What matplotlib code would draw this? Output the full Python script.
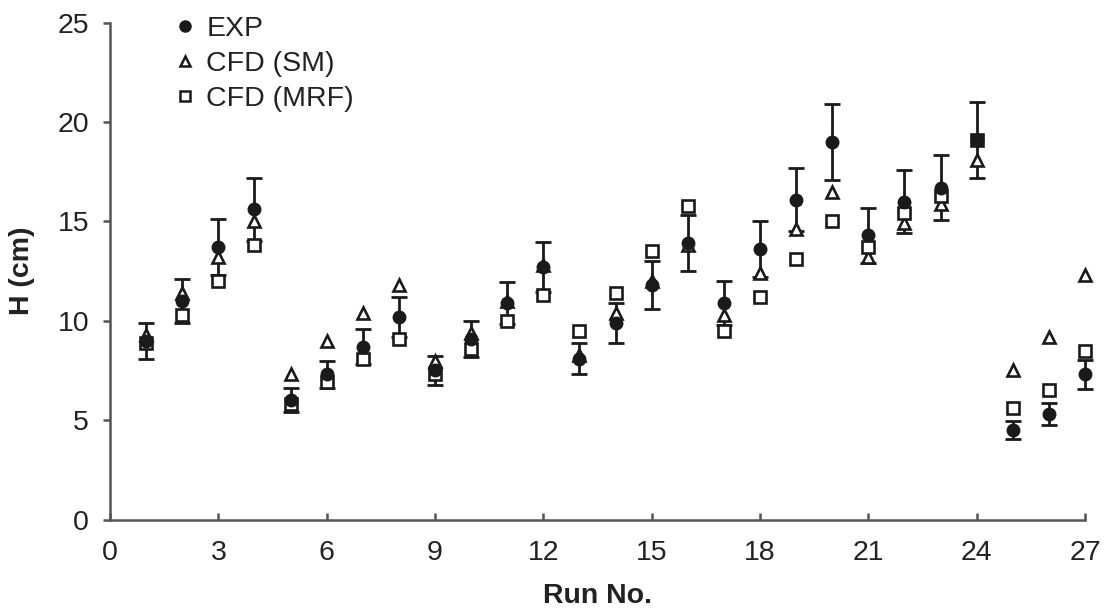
import matplotlib
matplotlib.use("Agg")
import matplotlib.pyplot as plt
from matplotlib.lines import Line2D

plt.rcParams['font.family'] = ['Liberation Sans', 'DejaVu Sans']

runs = list(range(1, 28))
exp = [9.0, 11.0, 13.7, 15.6, 6.0, 7.3, 8.7, 10.2, 7.5, 9.1, 10.9, 12.7, 8.1, 9.9,
       11.8, 13.9, 10.9, 13.6, 16.1, 19.0, 14.3, 16.0, 16.7, 19.1, 4.5, 5.3, 7.3]
exp_err = [0.9, 1.1, 1.4, 1.6, 0.6, 0.7, 0.9, 1.0, 0.75, 0.9, 1.05, 1.25, 0.8, 1.0,
           1.2, 1.4, 1.1, 1.4, 1.6, 1.9, 1.4, 1.6, 1.65, 1.9, 0.45, 0.55, 0.75]
cfd_sm = [9.3, 11.4, 13.2, 15.0, 7.3, 9.0, 10.4, 11.8, 8.0, 9.4, 11.0, 12.8, 8.3, 10.4,
          12.0, 13.8, 10.3, 12.4, 14.6, 16.5, 13.2, 14.9, 15.9, 18.1, 7.5, 9.2, 12.3]
cfd_mrf = [8.9, 10.3, 12.0, 13.8, 5.8, 6.9, 8.1, 9.1, 7.3, 8.6, 10.0, 11.3, 9.5, 11.4,
           13.5, 15.8, 9.5, 11.2, 13.1, 15.0, 13.7, 15.4, 16.3, 19.1, 5.6, 6.5, 8.5]

fig = plt.figure(figsize=(11.08, 6.11), dpi=100)
ax = fig.add_axes([110/1108, 1 - 519.5/611, (1085-110)/1108, (519.5-22.7)/611])

c = '#1a1a1a'
eb = ax.errorbar(runs, exp, yerr=exp_err, fmt='none', ecolor=c, elinewidth=2.0,
                 capsize=6, capthick=2.0, zorder=2)
for art in eb.lines[1] + eb.lines[2]:
    art.set_clip_on(False)
ax.plot(runs, cfd_sm, linestyle='none', marker='^', markersize=8, markerfacecolor='white',
        markeredgecolor=c, markeredgewidth=1.9, zorder=3, clip_on=False)
ax.plot(runs, cfd_mrf, linestyle='none', marker='s', markersize=8, markerfacecolor='white',
        markeredgecolor=c, markeredgewidth=1.9, zorder=3, clip_on=False)
ax.plot(runs, exp, linestyle='none', marker='o', markersize=9, markerfacecolor=c,
        markeredgecolor=c, zorder=4, clip_on=False)

ax.set_xlim(0, 27)
ax.set_ylim(0, 25)
ax.set_xticks(range(0, 28, 3))
ax.set_yticks(range(0, 26, 5))
for s in ['top', 'right']:
    ax.spines[s].set_visible(False)
for s in ['left', 'bottom']:
    ax.spines[s].set_color('#555555')
    ax.spines[s].set_linewidth(1.8)
ax.tick_params(axis='x', direction='in', length=5, width=1.8, color='#555555',
               labelsize=20.5, pad=15, labelcolor='#222222')
ax.tick_params(axis='y', direction='out', length=5, width=1.8, color='#555555',
               labelsize=20.5, pad=10, labelcolor='#222222')
ax.set_xlabel('Run No.', fontsize=20.5, fontweight='bold', labelpad=12, color='#222222')
ax.set_ylabel('H (cm)', fontsize=20.5, fontweight='bold', labelpad=16, color='#222222')

handles = [
    Line2D([], [], linestyle='none', marker='o', markersize=8, markerfacecolor=c, markeredgecolor=c),
    Line2D([], [], linestyle='none', marker='^', markersize=6.5, markerfacecolor='white',
           markeredgecolor=c, markeredgewidth=1.8),
    Line2D([], [], linestyle='none', marker='s', markersize=6.5, markerfacecolor='white',
           markeredgecolor=c, markeredgewidth=1.8),
]
leg = ax.legend(handles, ['EXP', 'CFD (SM)', 'CFD (MRF)'], loc='upper left',
                bbox_to_anchor=(0.033, 1.065), frameon=False, fontsize=20.5,
                handletextpad=0.15, labelspacing=0.32, handlelength=1.2)
for t in leg.get_texts():
    t.set_color('#222222')

fig.savefig('out.png', dpi=100)
